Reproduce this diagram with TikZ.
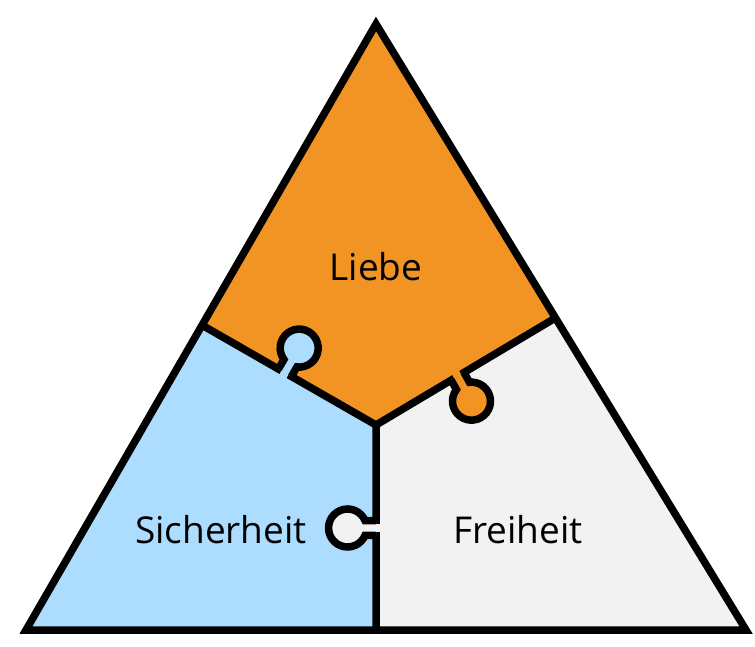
\documentclass[tikz,border=0pt]{standalone}
\usepackage{fontspec}
\setmainfont{Open Sans}
\usetikzlibrary{calc}
\definecolor{orng}{HTML}{F29423}
\definecolor{blu}{HTML}{ADDDFE}
\definecolor{gry}{HTML}{F2F2F2}
\begin{document}
\begin{tikzpicture}[x=1pt,y=1pt,line width=7.5pt,
  lbl/.style={font=\fontsize{37}{37}\selectfont}]
\useasboundingbox (0,0) rectangle (755,646);
\coordinate (T) at (376,622);
\coordinate (BL) at (26,16);
\coordinate (BR) at (746,16);
\coordinate (C) at (376,221);
\coordinate (B) at (376,16);
\coordinate (L) at ($(T)!0.497!(BL)$);
\coordinate (R) at ($(T)!0.485!(BR)$);
\fill[orng] (T) -- (L) -- (C) -- (R) -- cycle;
\fill[blu] (L) -- (BL) -- (B) -- (C) -- cycle;
\fill[gry] (R) -- (BR) -- (B) -- (C) -- cycle;
\draw[line join=miter] (L) -- (C) -- (R) (C) -- (B);
\def\knob#1#2#3{%
 \begin{scope}[shift={#1},rotate=#2]
  \fill[#3] (-7.5,0) -- (-7.5,-11) arc[start angle=113.2,end angle=426.8,radius=19] -- (7.5,0) -- cycle;
  \fill[#3] (-4,4.5) rectangle (4,-12);
  \draw (-7.5,0) -- (-7.5,-11) arc[start angle=113.2,end angle=426.8,radius=19] -- (7.5,0);
 \end{scope}}
\knob{($(C)!105pt!(L)$)}{150}{blu}
\knob{($(C)!95pt!(R)$)}{29.3}{orng}
\knob{($(C)!103pt!(B)$)}{-90}{gry}
\draw[line join=miter] (T) -- (BL) -- (BR) -- cycle;
\node[lbl] (li) at (376,379) {Liebe};
\node[lbl] (si) at (221,116) {Sicherheit};
\node[lbl] (fr) at (518,116) {Freiheit};
\end{tikzpicture}
\end{document}
